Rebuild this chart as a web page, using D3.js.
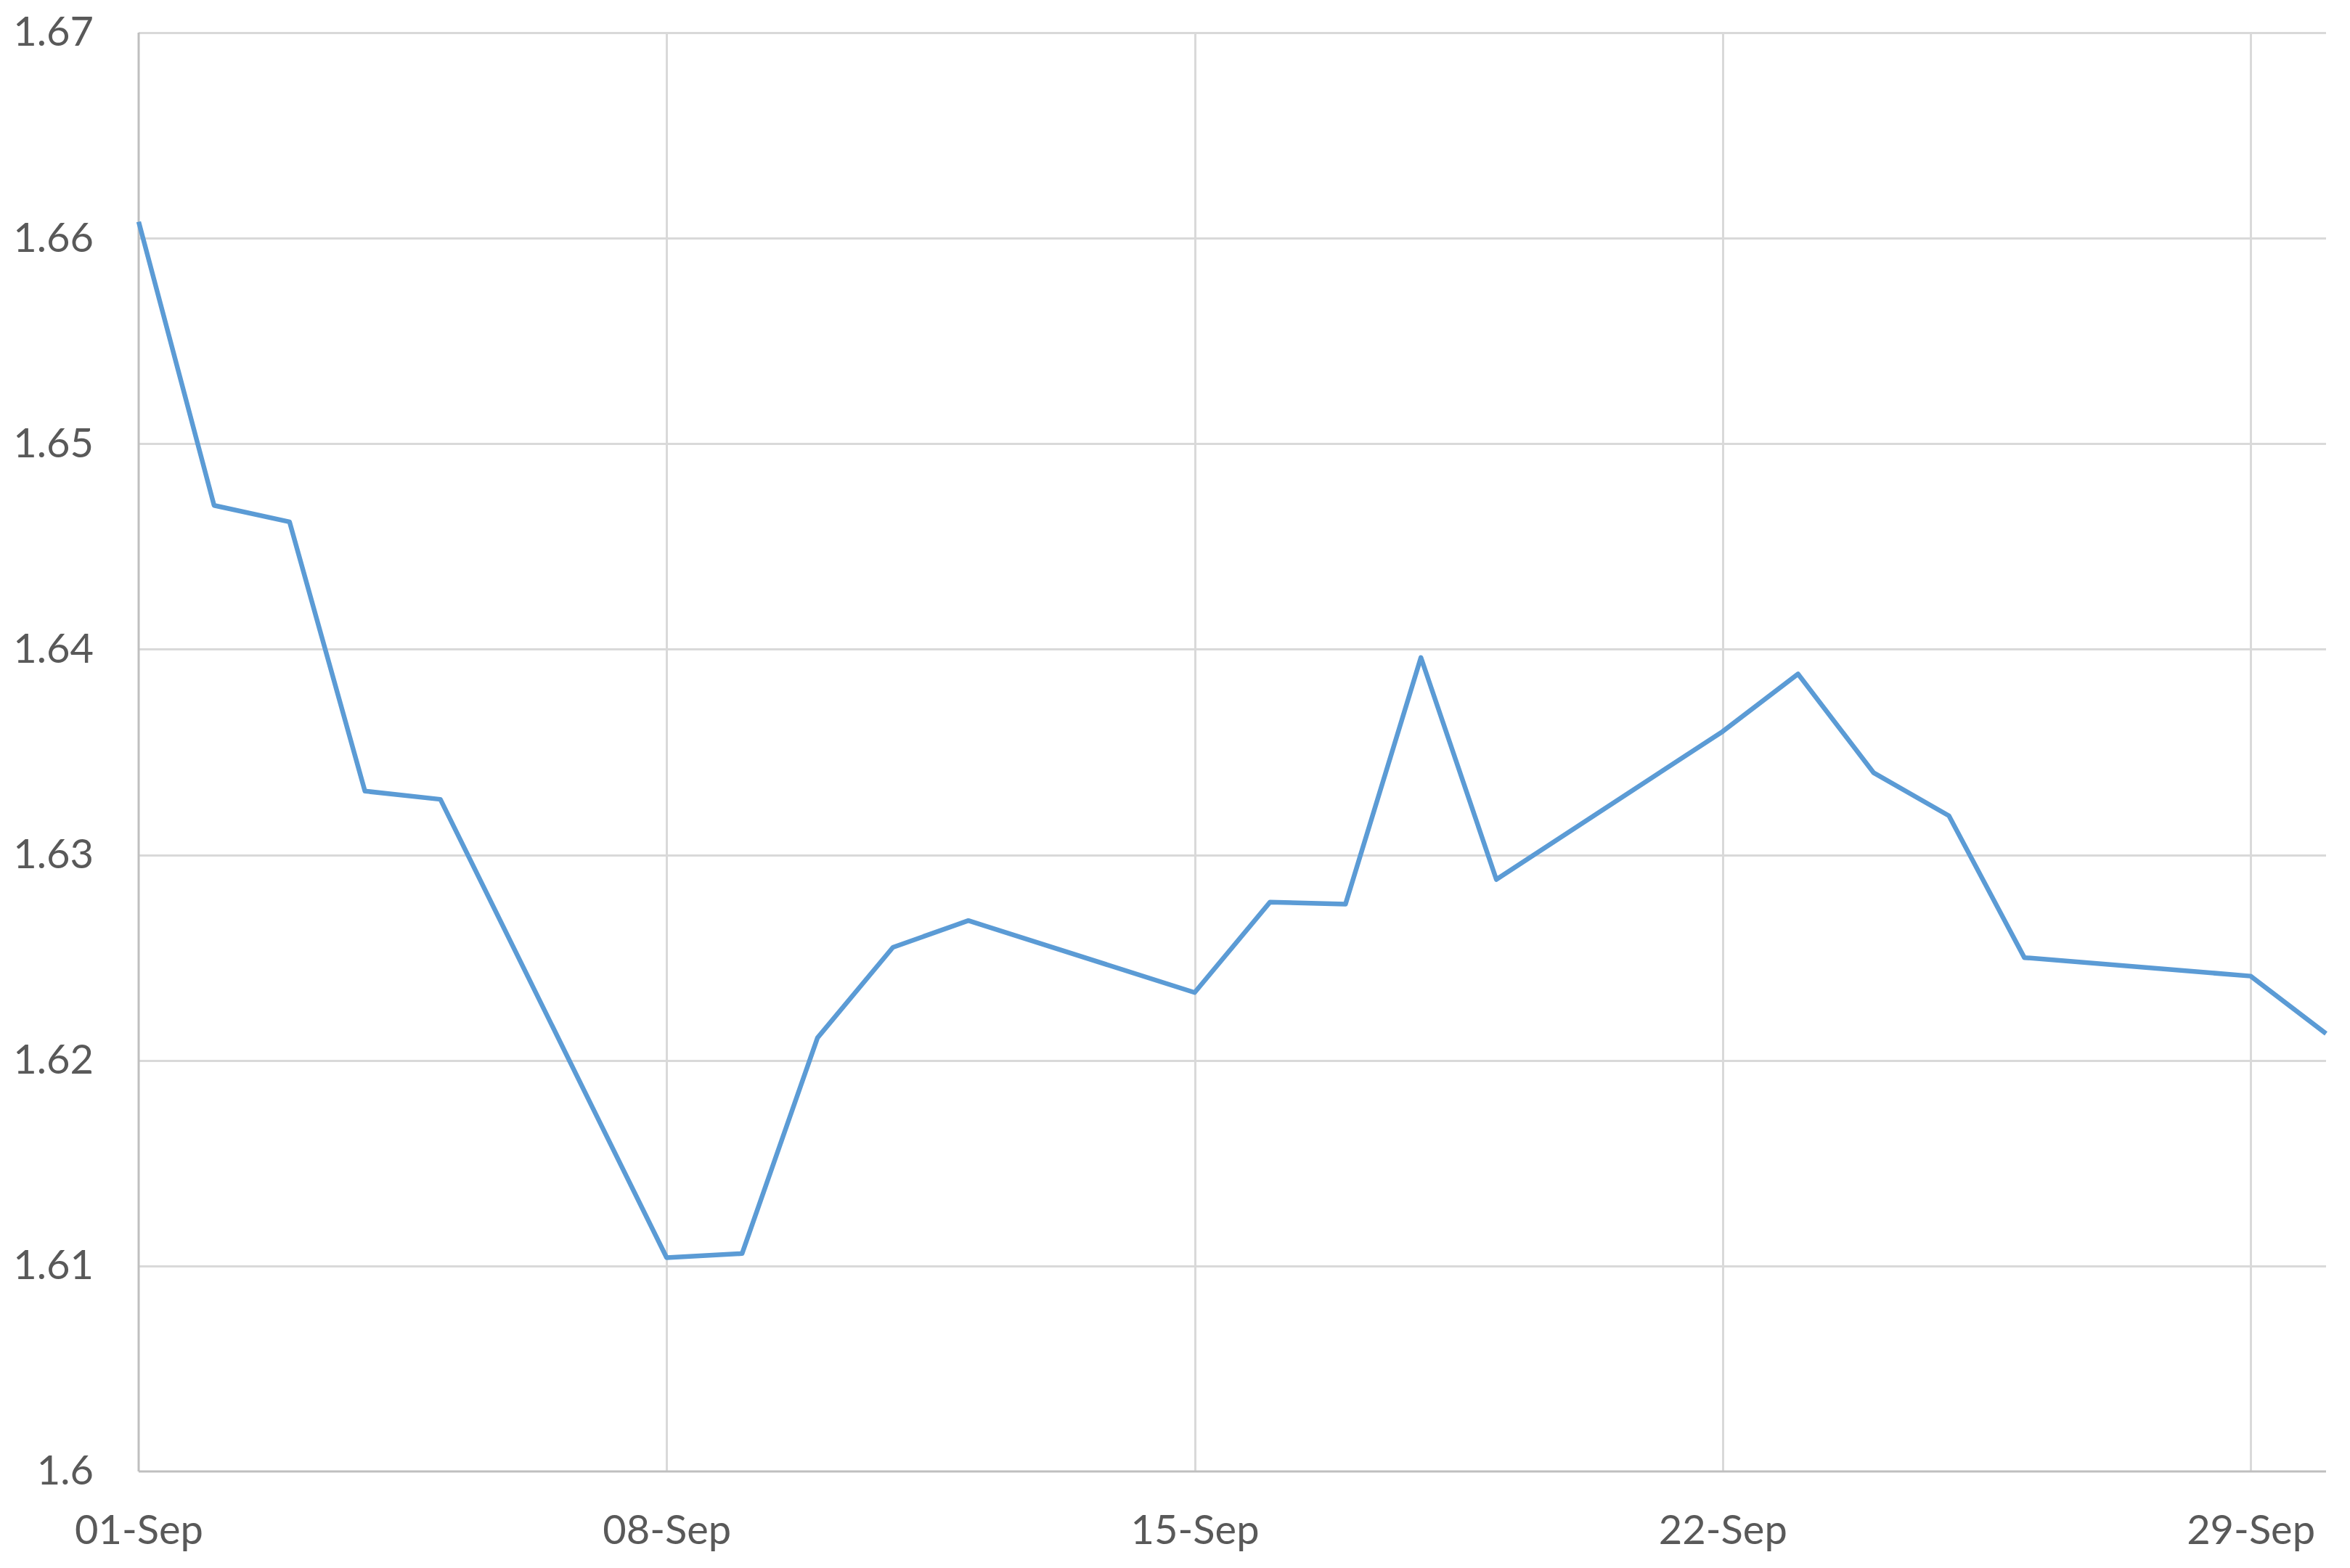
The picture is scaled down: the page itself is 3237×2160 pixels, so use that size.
<!DOCTYPE html>
<html>
<head>
<meta charset="utf-8">
<script src="https://cdn.jsdelivr.net/npm/d3@7"></script>
<style>
	body { margin: 0; background: #ffffff; }
	.grid line { stroke: #d9d9d9; stroke-width: 3px; shape-rendering: crispEdges; }
	.grid path { display: none; }
	.axis text { fill: #595959; font-family: Lato, "Open Sans", sans-serif; font-size: 56px; }
	.axis path, .axis line { display: none; }
</style>
</head>
<body>
<div id="svg-div"></div>
<script>
// data
var dates = ["2014-09-01", "2014-09-02", "2014-09-03", "2014-09-04", "2014-09-05",
	"2014-09-08", "2014-09-09", "2014-09-10", "2014-09-11", "2014-09-12",
	"2014-09-15", "2014-09-16", "2014-09-17", "2014-09-18", "2014-09-19",
	"2014-09-22", "2014-09-23", "2014-09-24", "2014-09-25", "2014-09-26",
	"2014-09-29", "2014-09-30"];
var rates = [1.6608, 1.6470, 1.6462, 1.6331, 1.6327,
	1.6104, 1.6106, 1.6211, 1.6255, 1.6268,
	1.6233, 1.6277, 1.6276, 1.6396, 1.6288,
	1.6360, 1.6388, 1.6340, 1.6319, 1.6250,
	1.6241, 1.6213];
var yTicks = [1.6, 1.61, 1.62, 1.63, 1.64, 1.65, 1.66, 1.67];
var yTickLabels = ["1.6", "1.61", "1.62", "1.63", "1.64", "1.65", "1.66", "1.67"];
var xTicks = ["2014-09-01", "2014-09-08", "2014-09-15", "2014-09-22", "2014-09-29"];

var chartProperties = {
	outerWidth: 3237,
	outerHeight: 2160,
	margin: {
		top: 45,
		right: 33,
		bottom: 133,
		left: 191
	}
};
chartProperties.width = chartProperties.outerWidth - chartProperties.margin.left - chartProperties.margin.right;
chartProperties.height = chartProperties.outerHeight - chartProperties.margin.top - chartProperties.margin.bottom;

var parseDate = d3.utcParse("%Y-%m-%d");
var data = dates.map(function(d, i) {
	return { date: parseDate(d), value: rates[i] };
});

var svg = d3.select("#svg-div")
	.append("svg")
	.attr("width", chartProperties.outerWidth)
	.attr("height", chartProperties.outerHeight)
	.append("g")
	.attr("transform", "translate(" + chartProperties.margin.left + "," + chartProperties.margin.top + ")");

// Scale
var xScale = d3.scaleUtc()
	.domain([parseDate(dates[0]), parseDate(dates[dates.length - 1])])
	.range([0, chartProperties.width]);

var yScale = d3.scaleLinear()
	.domain([1.6, 1.67])
	.range([chartProperties.height, 0]);

// Gridlines
svg.append("g")
	.attr("class", "grid")
	.call(d3.axisLeft(yScale)
		.tickValues(yTicks.slice(1))
		.tickFormat("")
		.tickSize(-chartProperties.width));

svg.append("g")
	.attr("class", "grid")
	.call(d3.axisTop(xScale)
		.tickValues(xTicks.slice(1).map(parseDate))
		.tickFormat("")
		.tickSize(-chartProperties.height));

// axis lines
svg.append("line")
	.attr("x1", 0).attr("x2", 0)
	.attr("y1", 0).attr("y2", chartProperties.height)
	.attr("stroke", "#bfbfbf")
	.attr("stroke-width", 3);

svg.append("line")
	.attr("x1", 0).attr("x2", chartProperties.width)
	.attr("y1", chartProperties.height).attr("y2", chartProperties.height)
	.attr("stroke", "#bfbfbf")
	.attr("stroke-width", 3);

// Axis labels
svg.append("g")
	.attr("class", "axis")
	.call(d3.axisLeft(yScale)
		.tickValues(yTicks)
		.tickFormat(function(d, i) { return yTickLabels[i]; })
		.tickSize(0)
		.tickPadding(62));

var fmt = d3.utcFormat("%d-%b");
svg.append("g")
	.attr("class", "axis")
	.attr("transform", "translate(0," + chartProperties.height + ")")
	.call(d3.axisBottom(xScale)
		.tickValues(xTicks.map(parseDate))
		.tickFormat(fmt)
		.tickSize(0)
		.tickPadding(60));

// the line
var line = d3.line()
	.x(function(d) { return xScale(d.date); })
	.y(function(d) { return yScale(d.value); });

svg.append("path")
	.datum(data)
	.attr("fill", "none")
	.attr("stroke", "#5b9bd5")
	.attr("stroke-width", 6.5)
	.attr("stroke-linejoin", "round")
	.attr("d", line);
</script>
</body>
</html>
